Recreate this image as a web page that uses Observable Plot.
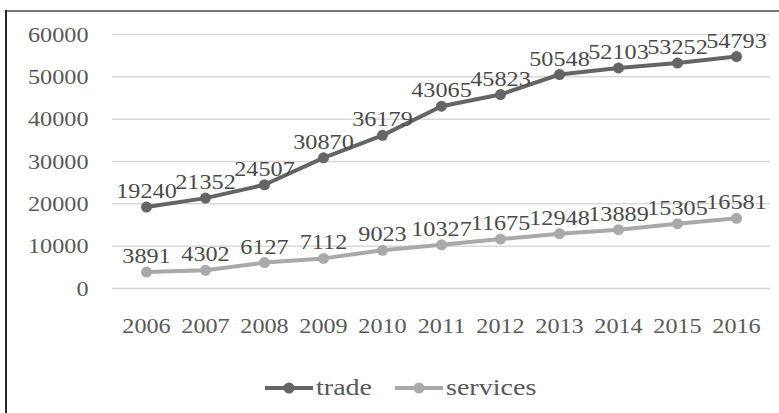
<!DOCTYPE html>
<html>
<head>
<meta charset="utf-8">
<script src="https://cdn.jsdelivr.net/npm/d3@7"></script>
<script src="https://cdn.jsdelivr.net/npm/@observablehq/plot@0.6"></script>
<style>
  html, body { margin: 0; padding: 0; background: #fff; }
  #wrap { position: relative; width: 779px; height: 413px; overflow: hidden; background: #fff; }
  #chart { position: absolute; left: 0; top: 0; }
  .frame-top { position: absolute; left: 6px; top: 10px; width: 773px; height: 0; border-top: 2px solid #7a7a7a; }
  .frame-left { position: absolute; left: 5px; top: 10px; width: 0; height: 403px; border-left: 2px solid #262626; }
  #legend { position: absolute; top: 374px; left: 0; width: 779px; height: 30px; font-family: "Liberation Serif", serif; font-size: 23px; color: #595959; }
  .item { position: absolute; top: 0; height: 30px; }
  .item svg { position: absolute; top: 0; left: 0; }
  .item span { position: absolute; top: 1px; display: inline-block; transform-origin: 0 50%; transform: scaleX(1.22); white-space: nowrap; }
</style>
</head>
<body>
<div id="wrap">
  <div id="chart"></div>
  <div class="frame-top"></div>
  <div class="frame-left"></div>
  <div id="legend"></div>
</div>
<script>
const years = [2006, 2007, 2008, 2009, 2010, 2011, 2012, 2013, 2014, 2015, 2016];
const trade = [19240, 21352, 24507, 30870, 36179, 43065, 45823, 50548, 52103, 53252, 54793];
const services = [3891, 4302, 6127, 7112, 9023, 10327, 11675, 12948, 13889, 15305, 16581];
const yTicks = [0, 10000, 20000, 30000, 40000, 50000, 60000];
const seriesNames = ["trade", "services"];
const seriesColors = ["#656565", "#a9a9a9"];

const rows = [];
years.forEach((yr, i) => {
  rows.push({year: yr, value: trade[i], series: "trade"});
  rows.push({year: yr, value: services[i], series: "services"});
});

const chart = Plot.plot({
  width: 779,
  height: 350,
  marginLeft: 112,
  marginRight: 9,
  marginTop: 34,
  marginBottom: 62,
  style: {fontFamily: "Liberation Serif, serif", fontSize: "22px", color: "#595959", background: "transparent"},
  x: {type: "point", domain: years, padding: 0.5, label: null},
  y: {domain: [0, 60000], label: null},
  color: {domain: seriesNames, range: seriesColors},
  marks: [
    Plot.gridY(yTicks, {stroke: "#d9d9d9", strokeOpacity: 1, strokeWidth: 1.5}),
    Plot.axisY(yTicks, {tickSize: 0, tickPadding: 24, tickFormat: d => String(d), fill: "#595959", fontSize: 22}),
    Plot.axisX(years, {tickSize: 0, tickPadding: 29, tickFormat: d => String(d), fill: "#595959", fontSize: 22}),
    Plot.line(rows, {x: "year", y: "value", z: "series", stroke: "series", strokeWidth: 4}),
    Plot.dot(rows, {x: "year", y: "value", fill: "series", r: 5.5, stroke: null}),
    Plot.text(rows, {x: "year", y: "value", text: d => String(d.value), dy: -16, fill: "#4a4a4a", fontSize: 22})
  ]
});
document.getElementById("chart").appendChild(chart);

// Horizontally widen the glyphs to match the reference's stretched serif text
chart.querySelectorAll("text").forEach(t => {
  const len = t.getComputedTextLength();
  if (len > 0) {
    t.setAttribute("textLength", (len * 1.1).toFixed(1));
    t.setAttribute("lengthAdjust", "spacingAndGlyphs");
  }
});

// Legend below the chart
const legend = document.getElementById("legend");
const legendPos = [{x: 265, tx: 316}, {x: 395, tx: 446}];
seriesNames.forEach((name, i) => {
  const item = document.createElement("div");
  item.className = "item";
  item.style.left = legendPos[i].x + "px";
  item.style.width = "200px";
  item.innerHTML =
    `<svg width="50" height="30"><line x1="0" x2="48" y1="14" y2="14" stroke="${seriesColors[i]}" stroke-width="4"/>` +
    `<circle cx="24" cy="14" r="5.5" fill="${seriesColors[i]}"/></svg>` +
    `<span style="left:${legendPos[i].tx - legendPos[i].x}px">${name}</span>`;
  legend.appendChild(item);
});
</script>
</body>
</html>
